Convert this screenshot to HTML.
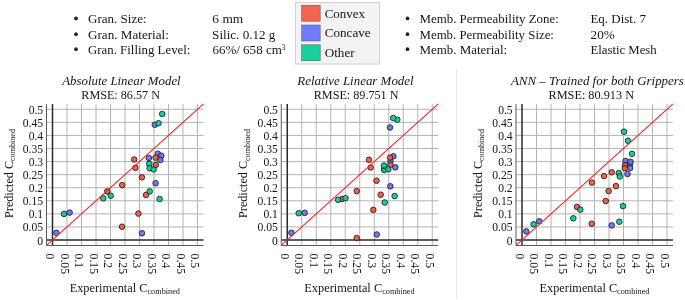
<!DOCTYPE html><html><head><meta charset="utf-8"><style>html,body{margin:0;padding:0;background:#fff;width:685px;height:300px;overflow:hidden}svg{display:block;will-change:transform}text{font-family:"Liberation Serif", serif;fill:#151515}</style></head><body>
<svg width="685" height="300" viewBox="0 0 685 300">
<circle cx="76" cy="18.4" r="1.85" fill="#222"/>
<circle cx="407.5" cy="18.4" r="1.85" fill="#222"/>
<circle cx="76" cy="34.2" r="1.85" fill="#222"/>
<circle cx="407.5" cy="34.2" r="1.85" fill="#222"/>
<circle cx="76" cy="49.2" r="1.85" fill="#222"/>
<circle cx="407.5" cy="49.2" r="1.85" fill="#222"/>
<rect x="295.5" y="2.5" width="84" height="61.5" fill="#f3f3f3" stroke="#d0d0d0" stroke-width="1"/>
<rect x="301.6" y="5.2" width="18.6" height="16" fill="#EF553B" stroke="#555" stroke-width="0.5" fill-opacity="0.9"/>
<rect x="301.6" y="25" width="18.6" height="16" fill="#636EFA" stroke="#555" stroke-width="0.5" fill-opacity="0.9"/>
<rect x="301.6" y="44.8" width="18.6" height="16" fill="#00CC96" stroke="#555" stroke-width="0.5" fill-opacity="0.9"/>
<rect x="456" y="70" width="1" height="228" fill="#e6e6e6"/>
<path d="M67 104V245.5M46.5 226.93H203.5M81.5 104V245.5M46.5 213.86H203.5M96 104V245.5M46.5 200.79H203.5M110.5 104V245.5M46.5 187.72H203.5M125 104V245.5M46.5 174.65H203.5M139.5 104V245.5M46.5 161.58H203.5M154 104V245.5M46.5 148.51H203.5M168.5 104V245.5M46.5 135.44H203.5M183 104V245.5M46.5 122.37H203.5M197.5 104V245.5M46.5 109.3H203.5" stroke="#b4b4b4" stroke-width="1" fill="none"/>
<path d="M52.5 104V245.5" stroke="#2a2a2a" stroke-width="1.5"/>
<path d="M46.5 240H203.5" stroke="#2a2a2a" stroke-width="1.5"/>
<path d="M46.5 104V245.5H203.5" stroke="#5a5a5a" stroke-width="1" fill="none"/>
<circle cx="56.4" cy="232.8" r="2.8" fill="#636EFA" fill-opacity="0.92" stroke="#1e1e1e" stroke-width="0.85"/>
<circle cx="64" cy="213.9" r="2.8" fill="#00CC96" fill-opacity="0.92" stroke="#1e1e1e" stroke-width="0.85"/>
<circle cx="69.6" cy="212.6" r="2.8" fill="#636EFA" fill-opacity="0.92" stroke="#1e1e1e" stroke-width="0.85"/>
<circle cx="103.3" cy="198.3" r="2.8" fill="#00CC96" fill-opacity="0.92" stroke="#1e1e1e" stroke-width="0.85"/>
<circle cx="107.2" cy="191.4" r="2.8" fill="#EF553B" fill-opacity="0.92" stroke="#1e1e1e" stroke-width="0.85"/>
<circle cx="110.7" cy="195.7" r="2.8" fill="#00CC96" fill-opacity="0.92" stroke="#1e1e1e" stroke-width="0.85"/>
<circle cx="122.2" cy="185.1" r="2.8" fill="#EF553B" fill-opacity="0.92" stroke="#1e1e1e" stroke-width="0.85"/>
<circle cx="122" cy="226.7" r="2.8" fill="#EF553B" fill-opacity="0.92" stroke="#1e1e1e" stroke-width="0.85"/>
<circle cx="134.2" cy="159.5" r="2.8" fill="#EF553B" fill-opacity="0.92" stroke="#1e1e1e" stroke-width="0.85"/>
<circle cx="135.4" cy="167.8" r="2.8" fill="#EF553B" fill-opacity="0.92" stroke="#1e1e1e" stroke-width="0.85"/>
<circle cx="138.4" cy="213.6" r="2.8" fill="#EF553B" fill-opacity="0.92" stroke="#1e1e1e" stroke-width="0.85"/>
<circle cx="142" cy="233.3" r="2.8" fill="#636EFA" fill-opacity="0.92" stroke="#1e1e1e" stroke-width="0.85"/>
<circle cx="141.9" cy="177.3" r="2.8" fill="#EF553B" fill-opacity="0.92" stroke="#1e1e1e" stroke-width="0.85"/>
<circle cx="146" cy="195" r="2.8" fill="#EF553B" fill-opacity="0.92" stroke="#1e1e1e" stroke-width="0.85"/>
<circle cx="149.7" cy="191.4" r="2.8" fill="#00CC96" fill-opacity="0.92" stroke="#1e1e1e" stroke-width="0.85"/>
<circle cx="155.6" cy="183.2" r="2.8" fill="#636EFA" fill-opacity="0.92" stroke="#1e1e1e" stroke-width="0.85"/>
<circle cx="159.6" cy="199" r="2.8" fill="#00CC96" fill-opacity="0.92" stroke="#1e1e1e" stroke-width="0.85"/>
<circle cx="157.8" cy="153.7" r="2.8" fill="#636EFA" fill-opacity="0.92" stroke="#1e1e1e" stroke-width="0.85"/>
<circle cx="161.3" cy="155.8" r="2.8" fill="#636EFA" fill-opacity="0.92" stroke="#1e1e1e" stroke-width="0.85"/>
<circle cx="160.4" cy="160" r="2.8" fill="#636EFA" fill-opacity="0.92" stroke="#1e1e1e" stroke-width="0.85"/>
<circle cx="155.5" cy="157.6" r="2.8" fill="#EF553B" fill-opacity="0.92" stroke="#1e1e1e" stroke-width="0.85"/>
<circle cx="148.9" cy="158" r="2.8" fill="#636EFA" fill-opacity="0.92" stroke="#1e1e1e" stroke-width="0.85"/>
<circle cx="149.2" cy="163.8" r="2.8" fill="#00CC96" fill-opacity="0.92" stroke="#1e1e1e" stroke-width="0.85"/>
<circle cx="155.7" cy="164.9" r="2.8" fill="#EF553B" fill-opacity="0.92" stroke="#1e1e1e" stroke-width="0.85"/>
<circle cx="149.6" cy="168.2" r="2.8" fill="#00CC96" fill-opacity="0.92" stroke="#1e1e1e" stroke-width="0.85"/>
<circle cx="153.7" cy="169.5" r="2.8" fill="#00CC96" fill-opacity="0.92" stroke="#1e1e1e" stroke-width="0.85"/>
<circle cx="162.2" cy="114" r="2.8" fill="#00CC96" fill-opacity="0.92" stroke="#1e1e1e" stroke-width="0.85"/>
<circle cx="154.8" cy="124.8" r="2.8" fill="#636EFA" fill-opacity="0.92" stroke="#1e1e1e" stroke-width="0.85"/>
<circle cx="158.5" cy="123.2" r="2.8" fill="#00CC96" fill-opacity="0.92" stroke="#1e1e1e" stroke-width="0.85"/>
<line x1="46.5" y1="245.41" x2="203.5" y2="103.89" stroke="#F02A2A" stroke-width="1.2"/>
<text x="43.2" y="244.5" font-size="12.4" text-anchor="end" textLength="5.83" lengthAdjust="spacingAndGlyphs">0</text>
<text transform="translate(46 253.6) rotate(90)" font-size="12.4" textLength="5.83" lengthAdjust="spacingAndGlyphs">0</text>
<text x="43.2" y="231.43" font-size="12.4" text-anchor="end" textLength="20.4" lengthAdjust="spacingAndGlyphs">0.05</text>
<text transform="translate(60.5 253.6) rotate(90)" font-size="12.4" textLength="20.4" lengthAdjust="spacingAndGlyphs">0.05</text>
<text x="43.2" y="218.36" font-size="12.4" text-anchor="end" textLength="14.57" lengthAdjust="spacingAndGlyphs">0.1</text>
<text transform="translate(75 253.6) rotate(90)" font-size="12.4" textLength="14.57" lengthAdjust="spacingAndGlyphs">0.1</text>
<text x="43.2" y="205.29" font-size="12.4" text-anchor="end" textLength="20.4" lengthAdjust="spacingAndGlyphs">0.15</text>
<text transform="translate(89.5 253.6) rotate(90)" font-size="12.4" textLength="20.4" lengthAdjust="spacingAndGlyphs">0.15</text>
<text x="43.2" y="192.22" font-size="12.4" text-anchor="end" textLength="14.57" lengthAdjust="spacingAndGlyphs">0.2</text>
<text transform="translate(104 253.6) rotate(90)" font-size="12.4" textLength="14.57" lengthAdjust="spacingAndGlyphs">0.2</text>
<text x="43.2" y="179.15" font-size="12.4" text-anchor="end" textLength="20.4" lengthAdjust="spacingAndGlyphs">0.25</text>
<text transform="translate(118.5 253.6) rotate(90)" font-size="12.4" textLength="20.4" lengthAdjust="spacingAndGlyphs">0.25</text>
<text x="43.2" y="166.08" font-size="12.4" text-anchor="end" textLength="14.57" lengthAdjust="spacingAndGlyphs">0.3</text>
<text transform="translate(133 253.6) rotate(90)" font-size="12.4" textLength="14.57" lengthAdjust="spacingAndGlyphs">0.3</text>
<text x="43.2" y="153.01" font-size="12.4" text-anchor="end" textLength="20.4" lengthAdjust="spacingAndGlyphs">0.35</text>
<text transform="translate(147.5 253.6) rotate(90)" font-size="12.4" textLength="20.4" lengthAdjust="spacingAndGlyphs">0.35</text>
<text x="43.2" y="139.94" font-size="12.4" text-anchor="end" textLength="14.57" lengthAdjust="spacingAndGlyphs">0.4</text>
<text transform="translate(162 253.6) rotate(90)" font-size="12.4" textLength="14.57" lengthAdjust="spacingAndGlyphs">0.4</text>
<text x="43.2" y="126.87" font-size="12.4" text-anchor="end" textLength="20.4" lengthAdjust="spacingAndGlyphs">0.45</text>
<text transform="translate(176.5 253.6) rotate(90)" font-size="12.4" textLength="20.4" lengthAdjust="spacingAndGlyphs">0.45</text>
<text x="43.2" y="113.8" font-size="12.4" text-anchor="end" textLength="14.57" lengthAdjust="spacingAndGlyphs">0.5</text>
<text transform="translate(191 253.6) rotate(90)" font-size="12.4" textLength="14.57" lengthAdjust="spacingAndGlyphs">0.5</text>
<path d="M301.75 104V245.5M281.25 226.93H438.25M316.25 104V245.5M281.25 213.86H438.25M330.75 104V245.5M281.25 200.79H438.25M345.25 104V245.5M281.25 187.72H438.25M359.75 104V245.5M281.25 174.65H438.25M374.25 104V245.5M281.25 161.58H438.25M388.75 104V245.5M281.25 148.51H438.25M403.25 104V245.5M281.25 135.44H438.25M417.75 104V245.5M281.25 122.37H438.25M432.25 104V245.5M281.25 109.3H438.25" stroke="#b4b4b4" stroke-width="1" fill="none"/>
<path d="M287.25 104V245.5" stroke="#2a2a2a" stroke-width="1.5"/>
<path d="M281.25 240H438.25" stroke="#2a2a2a" stroke-width="1.5"/>
<path d="M281.25 104V245.5H438.25" stroke="#5a5a5a" stroke-width="1" fill="none"/>
<circle cx="291.4" cy="232.8" r="2.8" fill="#636EFA" fill-opacity="0.92" stroke="#1e1e1e" stroke-width="0.85"/>
<circle cx="298.7" cy="213.2" r="2.8" fill="#00CC96" fill-opacity="0.92" stroke="#1e1e1e" stroke-width="0.85"/>
<circle cx="304.6" cy="212.9" r="2.8" fill="#636EFA" fill-opacity="0.92" stroke="#1e1e1e" stroke-width="0.85"/>
<circle cx="342" cy="199" r="2.8" fill="#EF553B" fill-opacity="0.92" stroke="#1e1e1e" stroke-width="0.85"/>
<circle cx="338.1" cy="199.8" r="2.8" fill="#00CC96" fill-opacity="0.92" stroke="#1e1e1e" stroke-width="0.85"/>
<circle cx="345.5" cy="198.2" r="2.8" fill="#00CC96" fill-opacity="0.92" stroke="#1e1e1e" stroke-width="0.85"/>
<circle cx="356.7" cy="191.1" r="2.8" fill="#EF553B" fill-opacity="0.92" stroke="#1e1e1e" stroke-width="0.85"/>
<circle cx="356.7" cy="238" r="2.8" fill="#EF553B" fill-opacity="0.92" stroke="#1e1e1e" stroke-width="0.85"/>
<circle cx="376.8" cy="234.5" r="2.8" fill="#636EFA" fill-opacity="0.92" stroke="#1e1e1e" stroke-width="0.85"/>
<circle cx="376.5" cy="180.7" r="2.8" fill="#EF553B" fill-opacity="0.92" stroke="#1e1e1e" stroke-width="0.85"/>
<circle cx="390.3" cy="186.3" r="2.8" fill="#636EFA" fill-opacity="0.92" stroke="#1e1e1e" stroke-width="0.85"/>
<circle cx="380.7" cy="194.7" r="2.8" fill="#EF553B" fill-opacity="0.92" stroke="#1e1e1e" stroke-width="0.85"/>
<circle cx="394.6" cy="196.1" r="2.8" fill="#00CC96" fill-opacity="0.92" stroke="#1e1e1e" stroke-width="0.85"/>
<circle cx="384.7" cy="202.5" r="2.8" fill="#00CC96" fill-opacity="0.92" stroke="#1e1e1e" stroke-width="0.85"/>
<circle cx="373.3" cy="209.9" r="2.8" fill="#EF553B" fill-opacity="0.92" stroke="#1e1e1e" stroke-width="0.85"/>
<circle cx="369" cy="159.8" r="2.8" fill="#EF553B" fill-opacity="0.92" stroke="#1e1e1e" stroke-width="0.85"/>
<circle cx="370.7" cy="167.5" r="2.8" fill="#EF553B" fill-opacity="0.92" stroke="#1e1e1e" stroke-width="0.85"/>
<circle cx="393.4" cy="156.3" r="2.8" fill="#636EFA" fill-opacity="0.92" stroke="#1e1e1e" stroke-width="0.85"/>
<circle cx="390.5" cy="161.3" r="2.8" fill="#636EFA" fill-opacity="0.92" stroke="#1e1e1e" stroke-width="0.85"/>
<circle cx="390.1" cy="157.6" r="2.8" fill="#EF553B" fill-opacity="0.92" stroke="#1e1e1e" stroke-width="0.85"/>
<circle cx="395.3" cy="167.3" r="2.8" fill="#636EFA" fill-opacity="0.92" stroke="#1e1e1e" stroke-width="0.85"/>
<circle cx="390.4" cy="164.7" r="2.8" fill="#EF553B" fill-opacity="0.92" stroke="#1e1e1e" stroke-width="0.85"/>
<circle cx="384.5" cy="169" r="2.8" fill="#636EFA" fill-opacity="0.92" stroke="#1e1e1e" stroke-width="0.85"/>
<circle cx="384.3" cy="170" r="2.8" fill="#00CC96" fill-opacity="0.92" stroke="#1e1e1e" stroke-width="0.85"/>
<circle cx="384" cy="165.6" r="2.8" fill="#00CC96" fill-opacity="0.92" stroke="#1e1e1e" stroke-width="0.85"/>
<circle cx="388.3" cy="169.3" r="2.8" fill="#00CC96" fill-opacity="0.92" stroke="#1e1e1e" stroke-width="0.85"/>
<circle cx="397.3" cy="119.7" r="2.8" fill="#00CC96" fill-opacity="0.92" stroke="#1e1e1e" stroke-width="0.85"/>
<circle cx="393.2" cy="118" r="2.8" fill="#00CC96" fill-opacity="0.92" stroke="#1e1e1e" stroke-width="0.85"/>
<circle cx="390" cy="127.5" r="2.8" fill="#636EFA" fill-opacity="0.92" stroke="#1e1e1e" stroke-width="0.85"/>
<line x1="281.25" y1="245.41" x2="438.25" y2="103.89" stroke="#F02A2A" stroke-width="1.2"/>
<text x="277.95" y="244.5" font-size="12.4" text-anchor="end" textLength="5.83" lengthAdjust="spacingAndGlyphs">0</text>
<text transform="translate(280.75 253.6) rotate(90)" font-size="12.4" textLength="5.83" lengthAdjust="spacingAndGlyphs">0</text>
<text x="277.95" y="231.43" font-size="12.4" text-anchor="end" textLength="20.4" lengthAdjust="spacingAndGlyphs">0.05</text>
<text transform="translate(295.25 253.6) rotate(90)" font-size="12.4" textLength="20.4" lengthAdjust="spacingAndGlyphs">0.05</text>
<text x="277.95" y="218.36" font-size="12.4" text-anchor="end" textLength="14.57" lengthAdjust="spacingAndGlyphs">0.1</text>
<text transform="translate(309.75 253.6) rotate(90)" font-size="12.4" textLength="14.57" lengthAdjust="spacingAndGlyphs">0.1</text>
<text x="277.95" y="205.29" font-size="12.4" text-anchor="end" textLength="20.4" lengthAdjust="spacingAndGlyphs">0.15</text>
<text transform="translate(324.25 253.6) rotate(90)" font-size="12.4" textLength="20.4" lengthAdjust="spacingAndGlyphs">0.15</text>
<text x="277.95" y="192.22" font-size="12.4" text-anchor="end" textLength="14.57" lengthAdjust="spacingAndGlyphs">0.2</text>
<text transform="translate(338.75 253.6) rotate(90)" font-size="12.4" textLength="14.57" lengthAdjust="spacingAndGlyphs">0.2</text>
<text x="277.95" y="179.15" font-size="12.4" text-anchor="end" textLength="20.4" lengthAdjust="spacingAndGlyphs">0.25</text>
<text transform="translate(353.25 253.6) rotate(90)" font-size="12.4" textLength="20.4" lengthAdjust="spacingAndGlyphs">0.25</text>
<text x="277.95" y="166.08" font-size="12.4" text-anchor="end" textLength="14.57" lengthAdjust="spacingAndGlyphs">0.3</text>
<text transform="translate(367.75 253.6) rotate(90)" font-size="12.4" textLength="14.57" lengthAdjust="spacingAndGlyphs">0.3</text>
<text x="277.95" y="153.01" font-size="12.4" text-anchor="end" textLength="20.4" lengthAdjust="spacingAndGlyphs">0.35</text>
<text transform="translate(382.25 253.6) rotate(90)" font-size="12.4" textLength="20.4" lengthAdjust="spacingAndGlyphs">0.35</text>
<text x="277.95" y="139.94" font-size="12.4" text-anchor="end" textLength="14.57" lengthAdjust="spacingAndGlyphs">0.4</text>
<text transform="translate(396.75 253.6) rotate(90)" font-size="12.4" textLength="14.57" lengthAdjust="spacingAndGlyphs">0.4</text>
<text x="277.95" y="126.87" font-size="12.4" text-anchor="end" textLength="20.4" lengthAdjust="spacingAndGlyphs">0.45</text>
<text transform="translate(411.25 253.6) rotate(90)" font-size="12.4" textLength="20.4" lengthAdjust="spacingAndGlyphs">0.45</text>
<text x="277.95" y="113.8" font-size="12.4" text-anchor="end" textLength="14.57" lengthAdjust="spacingAndGlyphs">0.5</text>
<text transform="translate(425.75 253.6) rotate(90)" font-size="12.4" textLength="14.57" lengthAdjust="spacingAndGlyphs">0.5</text>
<path d="M536.5 104V245.5M516 226.93H673M551 104V245.5M516 213.86H673M565.5 104V245.5M516 200.79H673M580 104V245.5M516 187.72H673M594.5 104V245.5M516 174.65H673M609 104V245.5M516 161.58H673M623.5 104V245.5M516 148.51H673M638 104V245.5M516 135.44H673M652.5 104V245.5M516 122.37H673M667 104V245.5M516 109.3H673" stroke="#b4b4b4" stroke-width="1" fill="none"/>
<path d="M522 104V245.5" stroke="#2a2a2a" stroke-width="1.5"/>
<path d="M516 240H673" stroke="#2a2a2a" stroke-width="1.5"/>
<path d="M516 104V245.5H673" stroke="#5a5a5a" stroke-width="1" fill="none"/>
<circle cx="526.3" cy="231.4" r="2.8" fill="#636EFA" fill-opacity="0.92" stroke="#1e1e1e" stroke-width="0.85"/>
<circle cx="533.6" cy="224.3" r="2.8" fill="#00CC96" fill-opacity="0.92" stroke="#1e1e1e" stroke-width="0.85"/>
<circle cx="539.3" cy="221.3" r="2.8" fill="#636EFA" fill-opacity="0.92" stroke="#1e1e1e" stroke-width="0.85"/>
<circle cx="573.3" cy="218.3" r="2.8" fill="#00CC96" fill-opacity="0.92" stroke="#1e1e1e" stroke-width="0.85"/>
<circle cx="577" cy="206.9" r="2.8" fill="#EF553B" fill-opacity="0.92" stroke="#1e1e1e" stroke-width="0.85"/>
<circle cx="580.3" cy="209.6" r="2.8" fill="#00CC96" fill-opacity="0.92" stroke="#1e1e1e" stroke-width="0.85"/>
<circle cx="591.7" cy="223.7" r="2.8" fill="#EF553B" fill-opacity="0.92" stroke="#1e1e1e" stroke-width="0.85"/>
<circle cx="591.9" cy="182.6" r="2.8" fill="#EF553B" fill-opacity="0.92" stroke="#1e1e1e" stroke-width="0.85"/>
<circle cx="604.1" cy="176.1" r="2.8" fill="#EF553B" fill-opacity="0.92" stroke="#1e1e1e" stroke-width="0.85"/>
<circle cx="611.7" cy="172.3" r="2.8" fill="#EF553B" fill-opacity="0.92" stroke="#1e1e1e" stroke-width="0.85"/>
<circle cx="608.6" cy="191" r="2.8" fill="#EF553B" fill-opacity="0.92" stroke="#1e1e1e" stroke-width="0.85"/>
<circle cx="605.7" cy="201" r="2.8" fill="#EF553B" fill-opacity="0.92" stroke="#1e1e1e" stroke-width="0.85"/>
<circle cx="615.9" cy="186.1" r="2.8" fill="#EF553B" fill-opacity="0.92" stroke="#1e1e1e" stroke-width="0.85"/>
<circle cx="611.7" cy="225.4" r="2.8" fill="#636EFA" fill-opacity="0.92" stroke="#1e1e1e" stroke-width="0.85"/>
<circle cx="619.3" cy="221.7" r="2.8" fill="#00CC96" fill-opacity="0.92" stroke="#1e1e1e" stroke-width="0.85"/>
<circle cx="623" cy="206.1" r="2.8" fill="#00CC96" fill-opacity="0.92" stroke="#1e1e1e" stroke-width="0.85"/>
<circle cx="618.8" cy="173" r="2.8" fill="#00CC96" fill-opacity="0.92" stroke="#1e1e1e" stroke-width="0.85"/>
<circle cx="619.8" cy="176.5" r="2.8" fill="#00CC96" fill-opacity="0.92" stroke="#1e1e1e" stroke-width="0.85"/>
<circle cx="624" cy="131.7" r="2.8" fill="#00CC96" fill-opacity="0.92" stroke="#1e1e1e" stroke-width="0.85"/>
<circle cx="628" cy="140.8" r="2.8" fill="#00CC96" fill-opacity="0.92" stroke="#1e1e1e" stroke-width="0.85"/>
<circle cx="632" cy="153.8" r="2.8" fill="#00CC96" fill-opacity="0.92" stroke="#1e1e1e" stroke-width="0.85"/>
<circle cx="630" cy="164" r="2.8" fill="#00CC96" fill-opacity="0.92" stroke="#1e1e1e" stroke-width="0.85"/>
<circle cx="625.5" cy="161" r="2.8" fill="#636EFA" fill-opacity="0.92" stroke="#1e1e1e" stroke-width="0.85"/>
<circle cx="630.5" cy="161.8" r="2.8" fill="#636EFA" fill-opacity="0.92" stroke="#1e1e1e" stroke-width="0.85"/>
<circle cx="625" cy="165.2" r="2.8" fill="#EF553B" fill-opacity="0.92" stroke="#1e1e1e" stroke-width="0.85"/>
<circle cx="624.8" cy="168.2" r="2.8" fill="#EF553B" fill-opacity="0.92" stroke="#1e1e1e" stroke-width="0.85"/>
<circle cx="630.2" cy="168" r="2.8" fill="#636EFA" fill-opacity="0.92" stroke="#1e1e1e" stroke-width="0.85"/>
<circle cx="627.5" cy="174" r="2.8" fill="#636EFA" fill-opacity="0.92" stroke="#1e1e1e" stroke-width="0.85"/>
<line x1="516" y1="245.41" x2="673" y2="103.89" stroke="#F02A2A" stroke-width="1.2"/>
<text x="512.7" y="244.5" font-size="12.4" text-anchor="end" textLength="5.83" lengthAdjust="spacingAndGlyphs">0</text>
<text transform="translate(515.5 253.6) rotate(90)" font-size="12.4" textLength="5.83" lengthAdjust="spacingAndGlyphs">0</text>
<text x="512.7" y="231.43" font-size="12.4" text-anchor="end" textLength="20.4" lengthAdjust="spacingAndGlyphs">0.05</text>
<text transform="translate(530 253.6) rotate(90)" font-size="12.4" textLength="20.4" lengthAdjust="spacingAndGlyphs">0.05</text>
<text x="512.7" y="218.36" font-size="12.4" text-anchor="end" textLength="14.57" lengthAdjust="spacingAndGlyphs">0.1</text>
<text transform="translate(544.5 253.6) rotate(90)" font-size="12.4" textLength="14.57" lengthAdjust="spacingAndGlyphs">0.1</text>
<text x="512.7" y="205.29" font-size="12.4" text-anchor="end" textLength="20.4" lengthAdjust="spacingAndGlyphs">0.15</text>
<text transform="translate(559 253.6) rotate(90)" font-size="12.4" textLength="20.4" lengthAdjust="spacingAndGlyphs">0.15</text>
<text x="512.7" y="192.22" font-size="12.4" text-anchor="end" textLength="14.57" lengthAdjust="spacingAndGlyphs">0.2</text>
<text transform="translate(573.5 253.6) rotate(90)" font-size="12.4" textLength="14.57" lengthAdjust="spacingAndGlyphs">0.2</text>
<text x="512.7" y="179.15" font-size="12.4" text-anchor="end" textLength="20.4" lengthAdjust="spacingAndGlyphs">0.25</text>
<text transform="translate(588 253.6) rotate(90)" font-size="12.4" textLength="20.4" lengthAdjust="spacingAndGlyphs">0.25</text>
<text x="512.7" y="166.08" font-size="12.4" text-anchor="end" textLength="14.57" lengthAdjust="spacingAndGlyphs">0.3</text>
<text transform="translate(602.5 253.6) rotate(90)" font-size="12.4" textLength="14.57" lengthAdjust="spacingAndGlyphs">0.3</text>
<text x="512.7" y="153.01" font-size="12.4" text-anchor="end" textLength="20.4" lengthAdjust="spacingAndGlyphs">0.35</text>
<text transform="translate(617 253.6) rotate(90)" font-size="12.4" textLength="20.4" lengthAdjust="spacingAndGlyphs">0.35</text>
<text x="512.7" y="139.94" font-size="12.4" text-anchor="end" textLength="14.57" lengthAdjust="spacingAndGlyphs">0.4</text>
<text transform="translate(631.5 253.6) rotate(90)" font-size="12.4" textLength="14.57" lengthAdjust="spacingAndGlyphs">0.4</text>
<text x="512.7" y="126.87" font-size="12.4" text-anchor="end" textLength="20.4" lengthAdjust="spacingAndGlyphs">0.45</text>
<text transform="translate(646 253.6) rotate(90)" font-size="12.4" textLength="20.4" lengthAdjust="spacingAndGlyphs">0.45</text>
<text x="512.7" y="113.8" font-size="12.4" text-anchor="end" textLength="14.57" lengthAdjust="spacingAndGlyphs">0.5</text>
<text transform="translate(660.5 253.6) rotate(90)" font-size="12.4" textLength="14.57" lengthAdjust="spacingAndGlyphs">0.5</text>
<text id="h1" x="88.03" y="22.8" font-size="13.0" textLength="58.56" lengthAdjust="spacingAndGlyphs">Gran. Size:</text>
<text id="h2" x="88.02" y="38.6" font-size="13.0" textLength="80.87" lengthAdjust="spacingAndGlyphs">Gran. Material:</text>
<text id="h3" x="88.03" y="53.6" font-size="13.0" textLength="102.39" lengthAdjust="spacingAndGlyphs">Gran. Filling Level:</text>
<text id="v1" x="212.36" y="22.8" font-size="13.0" textLength="30.91" lengthAdjust="spacingAndGlyphs">6 mm</text>
<text id="v2" x="212.12" y="38.6" font-size="13.0" textLength="63.29" lengthAdjust="spacingAndGlyphs">Silic. 0.12 g</text>
<text id="v3" x="212.38" y="53.6" font-size="13.0" textLength="73.03" lengthAdjust="spacingAndGlyphs">66%/ 658 cm<tspan font-size="7.2" dy="-3.7">3</tspan></text>
<text id="r1" x="419.51" y="22.8" font-size="13.0" textLength="139.31" lengthAdjust="spacingAndGlyphs">Memb. Permeability Zone:</text>
<text id="r2" x="419.52" y="38.6" font-size="13.0" textLength="134.41" lengthAdjust="spacingAndGlyphs">Memb. Permeability Size:</text>
<text id="r3" x="419.51" y="53.6" font-size="13.0" textLength="87.69" lengthAdjust="spacingAndGlyphs">Memb. Material:</text>
<text id="w1" x="590.4" y="22.8" font-size="13.0" textLength="55.52" lengthAdjust="spacingAndGlyphs">Eq. Dist. 7</text>
<text id="w2" x="590.61" y="38.6" font-size="13.0" textLength="24.11" lengthAdjust="spacingAndGlyphs">20%</text>
<text id="w3" x="590.41" y="53.6" font-size="13.0" textLength="66.3" lengthAdjust="spacingAndGlyphs">Elastic Mesh</text>
<text id="l1" x="324.74" y="17.6" font-size="13.4" textLength="40.19" lengthAdjust="spacingAndGlyphs">Convex</text>
<text id="l2" x="324.74" y="37.3" font-size="13.4" textLength="45.88" lengthAdjust="spacingAndGlyphs">Concave</text>
<text id="l3" x="324.74" y="56.9" font-size="13.4" textLength="29.9" lengthAdjust="spacingAndGlyphs">Other</text>
<text id="t1" x="62.23" y="84.9" font-size="13.0" font-style="italic" textLength="118.48" lengthAdjust="spacingAndGlyphs">Absolute Linear Model</text>
<text id="t2" x="297.36" y="84.8" font-size="13.0" font-style="italic" textLength="116.27" lengthAdjust="spacingAndGlyphs">Relative Linear Model</text>
<text id="t3" x="510.98" y="84.8" font-size="13.0" font-style="italic" textLength="172.93" lengthAdjust="spacingAndGlyphs">ANN – Trained for both Grippers</text>
<text id="m1" x="81.29" y="99.3" font-size="13.0" textLength="78.64" lengthAdjust="spacingAndGlyphs">RMSE: 86.57 N</text>
<text id="m2" x="313.75" y="99.3" font-size="13.0" textLength="84.77" lengthAdjust="spacingAndGlyphs">RMSE: 89.751 N</text>
<text id="m3" x="548.47" y="99.3" font-size="13.0" textLength="85.55" lengthAdjust="spacingAndGlyphs">RMSE: 80.913 N</text>
<text id="xl0" x="69.67" y="291.7" font-size="13.2" textLength="110.28" lengthAdjust="spacingAndGlyphs">Experimental C<tspan font-size="8.8" dy="2.2">combined</tspan></text>
<text id="yl0" transform="translate(12.5 217.88) rotate(-90)" x="0" y="0" font-size="13.2" textLength="88.82" lengthAdjust="spacingAndGlyphs">Predicted C<tspan font-size="8.8" dy="2.2">combined</tspan></text>
<text id="xl1" x="304.28" y="291.7" font-size="13.2" textLength="110.38" lengthAdjust="spacingAndGlyphs">Experimental C<tspan font-size="8.8" dy="2.2">combined</tspan></text>
<text id="yl1" transform="translate(247.3 217.88) rotate(-90)" x="0" y="0" font-size="13.2" textLength="88.82" lengthAdjust="spacingAndGlyphs">Predicted C<tspan font-size="8.8" dy="2.2">combined</tspan></text>
<text id="xl2" x="539.55" y="291.7" font-size="13.2" textLength="109.93" lengthAdjust="spacingAndGlyphs">Experimental C<tspan font-size="8.8" dy="2.2">combined</tspan></text>
<text id="yl2" transform="translate(482.1 217.88) rotate(-90)" x="0" y="0" font-size="13.2" textLength="88.82" lengthAdjust="spacingAndGlyphs">Predicted C<tspan font-size="8.8" dy="2.2">combined</tspan></text>
</svg></body></html>
